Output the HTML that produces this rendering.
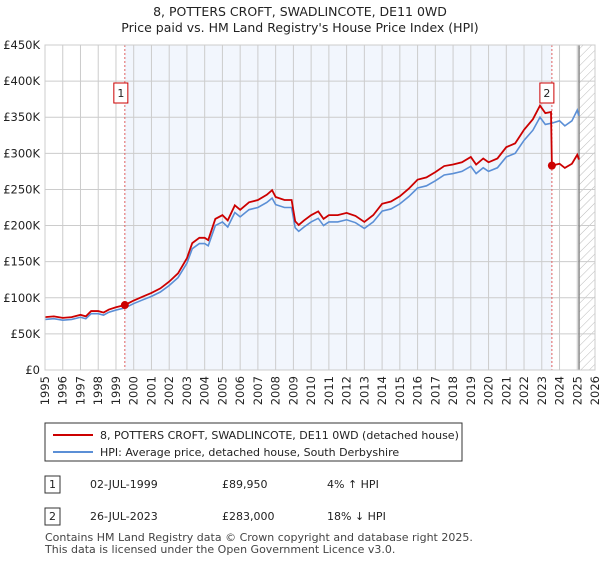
<!DOCTYPE html>
<html><head><meta charset="utf-8"><style>
body{margin:0;width:600px;height:560px;background:#fff;font-family:"Liberation Sans","DejaVu Sans",sans-serif;overflow:hidden}
</style></head><body>
<svg width="600" height="560" xmlns="http://www.w3.org/2000/svg" font-family="DejaVu Sans, Liberation Sans, sans-serif">
<defs><pattern id="hatch" width="6" height="6" patternUnits="userSpaceOnUse" patternTransform="rotate(45)"><line x1="0" y1="0" x2="0" y2="6" stroke="#bbb" stroke-width="1"/></pattern></defs>
<text x="300" y="16" text-anchor="middle" font-size="12.5" fill="#222">8, POTTERS CROFT, SWADLINCOTE, DE11 0WD</text>
<text x="300" y="32" text-anchor="middle" font-size="12.5" fill="#222">Price paid vs. HM Land Registry's House Price Index (HPI)</text>
<g id="plot"></g>
<g>
<rect x="45" y="423" width="417" height="38" fill="#fff" stroke="#333"/>
<line x1="53" y1="435" x2="93" y2="435" stroke="#cc0000" stroke-width="2"/>
<text x="100" y="439" font-size="11" fill="#222">8, POTTERS CROFT, SWADLINCOTE, DE11 0WD (detached house)</text>
<line x1="53" y1="452" x2="93" y2="452" stroke="#5b8fd6" stroke-width="2"/>
<text x="100" y="456" font-size="11" fill="#222">HPI: Average price, detached house, South Derbyshire</text>
</g>
<g font-size="11" fill="#222">
<rect x="45" y="476" width="15" height="17" fill="#fff" stroke="#333"/><text x="52.5" y="488" text-anchor="middle">1</text>
<text x="90" y="488">02-JUL-1999</text><text x="222" y="488">£89,950</text><text x="327" y="488">4% ↑ HPI</text>
<rect x="45" y="508" width="15" height="17" fill="#fff" stroke="#333"/><text x="52.5" y="520" text-anchor="middle">2</text>
<text x="90" y="520">26-JUL-2023</text><text x="222" y="520">£283,000</text><text x="327" y="520">18% ↓ HPI</text>
</g>
<text x="45" y="541" font-size="11" fill="#444">Contains HM Land Registry data © Crown copyright and database right 2025.</text>
<text x="45" y="553" font-size="11" fill="#444">This data is licensed under the Open Government Licence v3.0.</text>
</svg>
<script>
const hpiYears=[1995,1995.5,1996,1996.5,1997,1997.3,1997.6,1998,1998.3,1998.6,1999,1999.5,2000,2000.5,2001,2001.5,2002,2002.5,2003,2003.3,2003.7,2004,2004.2,2004.6,2005,2005.3,2005.7,2006,2006.5,2007,2007.5,2007.8,2008,2008.5,2008.9,2009.1,2009.3,2009.6,2010,2010.4,2010.7,2011,2011.5,2012,2012.5,2013,2013.5,2014,2014.5,2015,2015.5,2016,2016.5,2017,2017.5,2018,2018.5,2019,2019.3,2019.7,2020,2020.5,2021,2021.5,2022,2022.5,2022.9,2023.2,2023.6,2024,2024.3,2024.7,2025,2025.1];
const hpiValues=[70,71,69,70,73,71,78,78,76,80,83,86,92,97,102,108,117,128,148,168,175,175,172,200,205,198,218,212,222,225,232,238,229,225,225,197,192,198,205,210,200,205,205,208,204,196,205,220,223,230,240,252,255,262,270,272,275,282,272,280,275,280,295,300,318,332,350,340,342,345,338,345,360,352];
const saleYears=[1999.5,2023.57];
const salePrices=[89.95,283];
const yTicks=[0,50,100,150,200,250,300,350,400,450];
const yTickLabels=["£0","£50K","£100K","£150K","£200K","£250K","£300K","£350K","£400K","£450K"];
const xTicks=[1995,1996,1997,1998,1999,2000,2001,2002,2003,2004,2005,2006,2007,2008,2009,2010,2011,2012,2013,2014,2015,2016,2017,2018,2019,2020,2021,2022,2023,2024,2025,2026];
const X0=45,X1=595,Y0=370,Y1=45;
const xs=v=>X0+(v-1995)/(2026-1995)*(X1-X0);
const ys=v=>Y0-v/450*(Y0-Y1);
const NS="http://www.w3.org/2000/svg";
const g=document.getElementById('plot');
function mk(t,a){const e=document.createElementNS(NS,t);for(const k in a)e.setAttribute(k,a[k]);g.appendChild(e);return e;}
function hpiAt(y){for(let i=1;i<hpiYears.length;i++){if(y<=hpiYears[i]){const t=(y-hpiYears[i-1])/(hpiYears[i]-hpiYears[i-1]);return hpiValues[i-1]+t*(hpiValues[i]-hpiValues[i-1]);}}return hpiValues[hpiValues.length-1];}
let e=mk('rect',{x:xs(saleYears[0]),y:Y1,width:xs(saleYears[1])-xs(saleYears[0]),height:Y0-Y1,fill:'#f2f6fd'});

e=mk('rect',{x:xs(2025.1),y:Y1,width:X1-xs(2025.1),height:Y0-Y1,fill:'url(#hatch)'});

xTicks.forEach(t=>{const l=mk('line',{x1:xs(t),x2:xs(t),y1:Y1,y2:Y0,stroke:'#ccc'});
const tx=mk('text',{x:xs(t)+4,y:Y0+6,'text-anchor':'end','font-size':11.5,fill:'#222',transform:'rotate(-90 '+(xs(t)+4)+' '+(Y0+6)+')'});tx.textContent=t;});
yTicks.forEach((t,i)=>{const l=mk('line',{x1:X0,x2:X1,y1:ys(t),y2:ys(t),stroke:'#ccc'});
const tx=mk('text',{x:X0-5,y:ys(t)+4,'text-anchor':'end','font-size':11.5,fill:'#222'});tx.textContent=yTickLabels[i];});
e=mk('line',{x1:xs(2025.1),x2:xs(2025.1),y1:Y1,y2:Y0,stroke:'#888','stroke-width':1.5});

saleYears.forEach((s,i)=>{const l=mk('line',{x1:xs(s),x2:xs(s),y1:Y1,y2:Y0,stroke:'#e06060','stroke-dasharray':'2,2'});});
const hp=hpiYears.map((y,i)=>xs(y)+','+ys(hpiValues[i])).join(' ');
e=mk('polyline',{points:hp,fill:'none',stroke:'#5b8fd6','stroke-width':1.6});

const r1=salePrices[0]/hpiAt(saleYears[0]),r2=salePrices[1]/hpiAt(saleYears[1]);
const rp=[];hpiYears.forEach((y,i)=>{if(y<saleYears[1])rp.push([y,hpiValues[i]*r1]);});
rp.push([saleYears[1]-0.05,hpiAt(saleYears[1]-0.05)*r1]);rp.push([saleYears[1],salePrices[1]]);
hpiYears.forEach((y,i)=>{if(y>saleYears[1])rp.push([y,hpiValues[i]*r2]);});
e=mk('polyline',{points:rp.map(p=>xs(p[0])+','+ys(p[1])).join(' '),fill:'none',stroke:'#cc0000','stroke-width':1.8});

saleYears.forEach((s,i)=>{const c=mk('circle',{cx:xs(s),cy:ys(salePrices[i]),r:4,fill:'#cc0000'});
const bx=xs(s)-9-(i==0?2:3);const r=mk('rect',{x:bx,y:83,width:14,height:20,fill:'#fff',stroke:'#cc0000'});
const t=mk('text',{x:bx+7,y:97,'text-anchor':'middle','font-size':11,fill:'#222'});t.textContent=i+1;});
e=mk('rect',{x:X0,y:Y1,width:X1-X0,height:Y0-Y1,fill:'none',stroke:'#ccc'});

</script>
</body></html>
